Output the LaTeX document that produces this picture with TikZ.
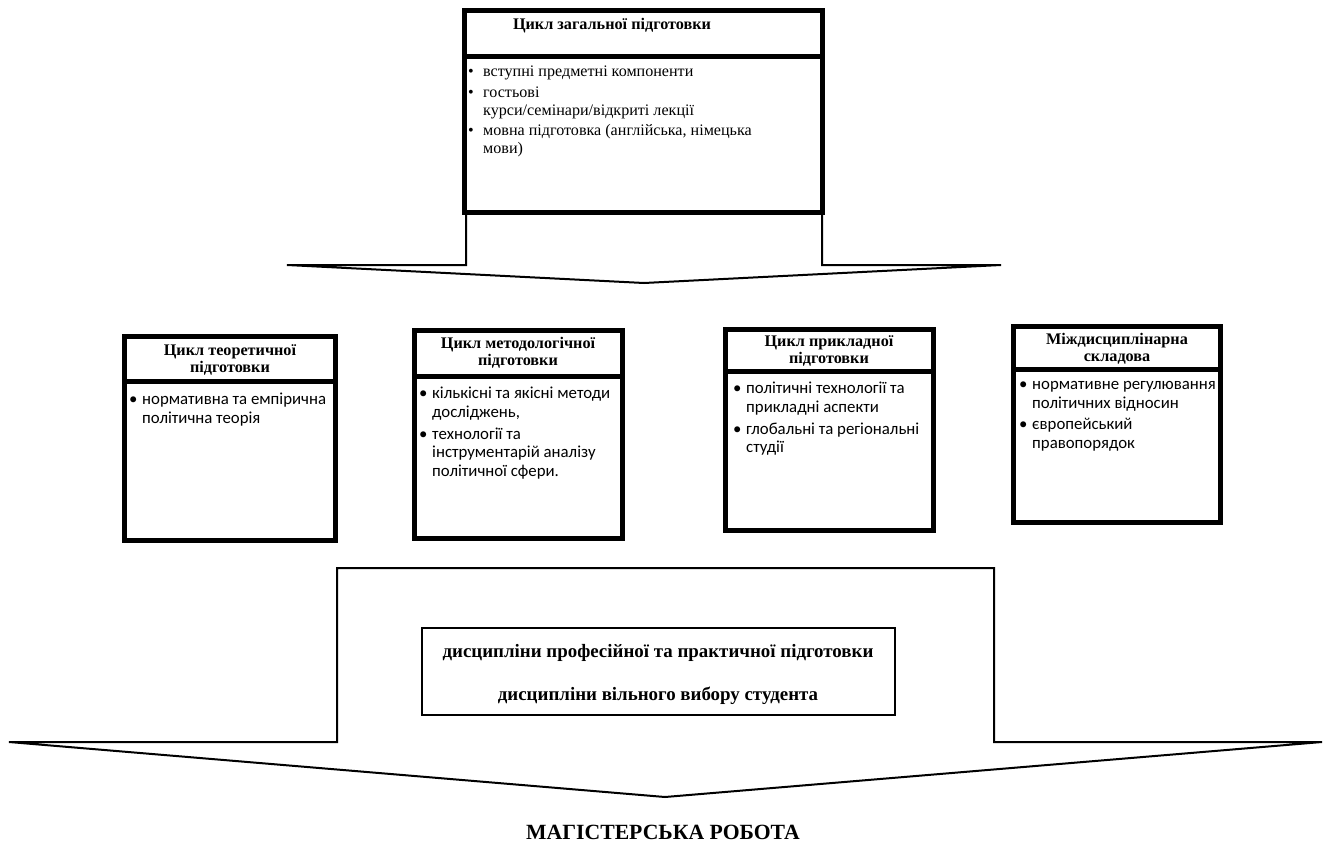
\documentclass[tikz,border=0pt]{standalone}
\usepackage{fontspec}
\setmainfont{Liberation Serif}
\newfontfamily\calib{Carlito}
\newcommand\bitem{\makebox[13pt][l]{•}}
\newcommand\ind{\hspace*{13pt}}
\begin{document}
\begin{tikzpicture}[x=1pt,y=-1pt,
  thickbox/.style={draw, line width=5pt, inner sep=0pt, outer sep=0pt, anchor=north west},
  hdr/.style={font=\bfseries\fontsize{16.2}{17.5}\selectfont, align=center, inner sep=0pt},
  body/.style={font=\calib\fontsize{16.8}{18.7}\selectfont, align=left, anchor=north west, inner sep=0pt},
  topbody/.style={font=\fontsize{16.1}{17.7}\selectfont, align=left, anchor=north west, inner sep=0pt},
  divider/.style={line width=5pt},
  blockarrow/.style={draw, line width=2pt, line join=miter},
  inner/.style={draw, line width=1.6pt, inner sep=0pt, outer sep=0pt, anchor=north west, minimum width=473pt, minimum height=87pt},
  innertxt/.style={font=\bfseries\fontsize{18.9}{21}\selectfont, inner sep=0pt},
  title/.style={font=\bfseries\fontsize{21.7}{24}\selectfont, inner sep=0pt}]
\useasboundingbox (0,0) rectangle (1327,851);

% upper block arrow
\coordinate (ua1) at (466,212);
\coordinate (ua2) at (822,212);
\draw[blockarrow] (ua1) -- (466,265) -- (287,265) -- (644,283) -- (1001,265) -- (822,265) -- (ua2);

% top box
\node[thickbox, minimum width=358pt, minimum height=202pt] (top) at (464.5,10.5) {};
\draw[divider] (464.5,57) -- (822.5,57);
\node[hdr] (toph) at (612,26) {Цикл загальної підготовки};
\node[topbody] (topt) at (468,66) {\makebox[15pt][l]{•}вступні предметні компоненти\\[3pt]
\makebox[15pt][l]{•}гостьові\\
\hspace*{15pt}курси/семінари/відкриті лекції\\[3pt]
\makebox[15pt][l]{•}мовна підготовка (англійська, німецька\\
\hspace*{15pt}мови)};

% four boxes
\node[thickbox, minimum width=211pt, minimum height=204pt] (b1) at (124.5,336.5) {};
\draw[divider] (124.5,381) -- (335.5,381);
\node[hdr] (h1) at (230,360) {Цикл теоретичної\\підготовки};
\node[body] (t1) at (129,393) {\bitem нормативна та емпірична\\ \ind політична теорія};

\node[thickbox, minimum width=208pt, minimum height=208pt] (b2) at (414,330) {};
\draw[divider] (414,376) -- (622,376);
\node[hdr] (h2) at (518,353) {Цикл методологічної\\підготовки};
\node[body] (t2) at (419,387) {\bitem кількісні та якісні методи\\ \ind досліджень,\\[3pt]
\bitem технології та\\ \ind інструментарій аналізу\\ \ind політичної сфери.};

\node[thickbox, minimum width=208pt, minimum height=201pt] (b3) at (725.5,329.5) {};
\draw[divider] (725.5,371.5) -- (933.5,371.5);
\node[hdr] (h3) at (829,351) {Цикл прикладної\\підготовки};
\node[body] (t3) at (733,382) {\bitem політичні технології та\\ \ind прикладні аспекти\\[3pt]
\bitem глобальні та регіональні\\ \ind студії};

\node[thickbox, minimum width=207pt, minimum height=196pt] (b4) at (1013.5,326.5) {};
\draw[divider] (1013.5,369.5) -- (1220.5,369.5);
\node[hdr] (h4) at (1117,349) {Міждисциплінарна\\складова};
\node[body] (t4) at (1019,381) {\bitem нормативне регулювання\\ \ind політичних відносин\\[3pt]
\bitem європейський\\ \ind правопорядок};

% lower block arrow
\draw[blockarrow] (337,568) -- (994,568) -- (994,742) -- (1322,742) -- (665,797) -- (9,742) -- (337,742) -- cycle;

% inner box
\node[inner] (ib) at (422,628) {};
\node[innertxt] (it1) at (658,653) {дисципліни професійної та практичної підготовки};
\node[innertxt] (it2) at (658,696) {дисципліни вільного вибору студента};

% title
\node[title] (ttl) at (663,832) {МАГІСТЕРСЬКА РОБОТА};
\end{tikzpicture}
\end{document}
